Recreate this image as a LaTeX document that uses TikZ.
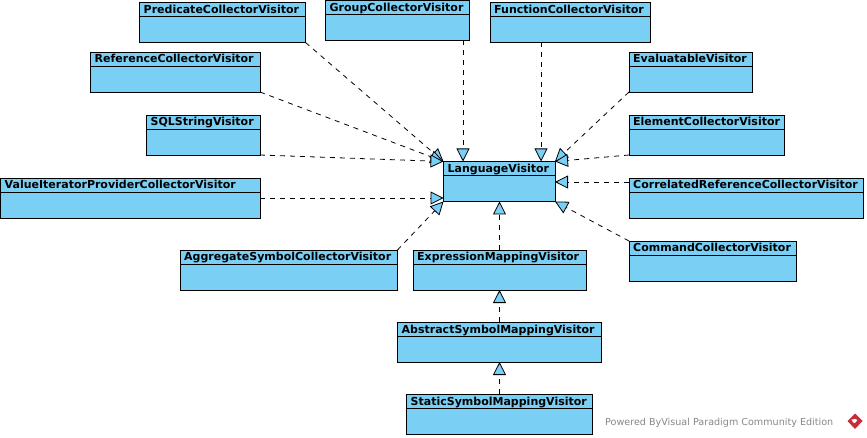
\documentclass[tikz,border=0pt]{standalone}
\usepackage{fontspec}
\setmainfont{DejaVu Sans}
\usetikzlibrary{arrows.meta}
\definecolor{boxblue}{RGB}{122,207,245}
\definecolor{vpgray}{RGB}{135,135,135}
\definecolor{vpred}{RGB}{200,45,55}
\tikzset{
  cls/.style={draw=black,fill=boxblue,line width=0.9pt,inner sep=0pt,outer sep=0pt,anchor=north west},
  clstitle/.style={font=\bfseries\fontsize{11pt}{13pt}\selectfont,inner sep=0pt,anchor=base west,text=black},
  realize/.style={draw=black,line width=0.8pt,dash pattern=on 5pt off 5pt,
    -{Triangle[open,length=13pt,width=13pt,fill=boxblue,line width=0.8pt]}},
}
% name, x1, y1, x2, y2, title
\newcommand{\umlclass}[6]{%
  \pgfmathsetmacro{\boxw}{#4-#2}\pgfmathsetmacro{\boxh}{#5-#3}%
  \node[cls,minimum width=\boxw pt,minimum height=\boxh pt] (#1) at (#2,#3) {};
  \node[clstitle] (#1-t) at (#2+4,#3+11) {#6};
  \draw[line width=0.9pt] (#1.north west) ++(0,14) -- ++(\boxw,0);
}
\begin{document}
\begin{tikzpicture}[x=1pt,y=-1pt]
\useasboundingbox (0,0) rectangle (867,438);
\umlclass{pred}{139.5}{2.5}{305.5}{42.5}{PredicateCollectorVisitor}
\umlclass{ref}{90.5}{52}{260}{92}{ReferenceCollectorVisitor}
\umlclass{group}{325.5}{0.5}{469}{40.5}{GroupCollectorVisitor}
\umlclass{func}{490}{2.5}{650}{42.5}{FunctionCollectorVisitor}
\umlclass{eval}{629}{52}{752}{92}{EvaluatableVisitor}
\umlclass{elem}{629}{115}{784}{155}{ElementCollectorVisitor}
\umlclass{corr}{629}{178}{863}{218}{CorrelatedReferenceCollectorVisitor}
\umlclass{cmd}{629}{241}{796}{281}{CommandCollectorVisitor}
\umlclass{sql}{146.5}{115}{260}{155}{SQLStringVisitor}
\umlclass{vali}{0.5}{178}{260}{218}{ValueIteratorProviderCollectorVisitor}
\umlclass{agg}{180}{250}{397.5}{290}{AggregateSymbolCollectorVisitor}
\umlclass{expr}{413}{250}{586}{290}{ExpressionMappingVisitor}
\umlclass{abst}{397.5}{322}{601}{362}{AbstractSymbolMappingVisitor}
\umlclass{stat}{406.5}{394}{592}{434}{StaticSymbolMappingVisitor}
\umlclass{lang}{443.5}{161.5}{555}{201.5}{LanguageVisitor}

\coordinate (pg) at (463,40.5);
\coordinate (lg) at (463,161.5);
\coordinate (pf) at (541,42.5);
\coordinate (lf) at (541,161.5);
\coordinate (pc) at (629,182);
\coordinate (lc) at (555,182);
\coordinate (pv) at (260,198);
\coordinate (lv) at (443.5,198);
\coordinate (pe) at (499.5,250);
\coordinate (le) at (499.5,201.5);
\coordinate (pa) at (499.5,322);
\coordinate (la) at (499.5,290);
\coordinate (ps) at (499.5,394);
\coordinate (ls) at (499.5,362);

\draw[realize] (pred.south east) -- (lang.north west);
\draw[realize] (ref.south east) -- (lang.north west);
\draw[realize] (sql.south east) -- (lang.north west);
\draw[realize] (pv) -- (lv);
\draw[realize] (agg.north east) -- (lang.south west);
\draw[realize] (pg) -- (lg);
\draw[realize] (pf) -- (lf);
\draw[realize] (eval.south west) -- (lang.north east);
\draw[realize] (elem.south west) -- (lang.north east);
\draw[realize] (pc) -- (lc);
\draw[realize] (cmd.north west) -- (lang.south east);
\draw[realize] (pe) -- (le);
\draw[realize] (pa) -- (la);
\draw[realize] (ps) -- (ls);

\node[anchor=base west,inner sep=0pt,text=vpgray,font=\fontsize{9.6pt}{11pt}\selectfont] (vp) at (605,425.5) {Powered ByVisual Paradigm Community Edition};
\fill[vpred] (855,413.5) -- (862.5,421) -- (855,429) -- (847.5,421) -- cycle;
\fill[white] (851.5,419.5) -- (856,419) -- (857,420.5) -- (855,423) -- (853,422.5) -- cycle;
\end{tikzpicture}
\end{document}
